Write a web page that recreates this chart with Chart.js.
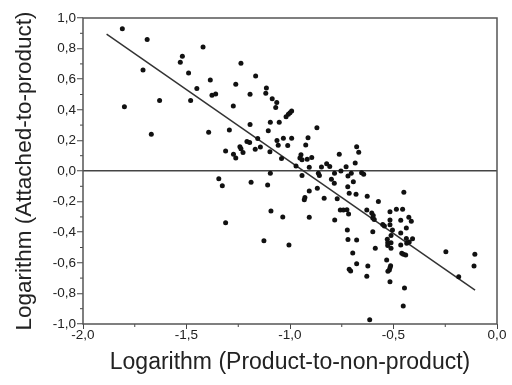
<!DOCTYPE html>
<html>
<head>
<meta charset="utf-8">
<title>Attached-to-product vs product-to-non-product</title>
<script src="https://cdn.jsdelivr.net/npm/chart.js@4.4.0/dist/chart.umd.min.js"></script>
<style>
  html, body { margin: 0; padding: 0; background: #fff; }
  #wrap { width: 512px; height: 385px; }
</style>
</head>
<body>
<div id="wrap"><canvas id="plot" width="512" height="385"></canvas></div>
<script>
// log(product / non-product), one value per item
var logProduct = [
  -1.81, -1.80, -1.69, -1.71, -1.67, -1.63, -1.53, -1.52, -1.49, -1.42, -1.45, -1.48,
  -1.385, -1.377, -1.359, -1.393, -1.237, -1.262, -1.274, -1.193, -1.166, -1.114, -1.117, -1.086,
  -1.064, -1.069, -1.193, -1.293, -1.311, -1.273, -1.262, -1.242, -1.237, -1.227, -1.208, -1.195,
  -1.168, -1.156, -1.143, -1.105, -1.095, -1.052, -1.097, -1.063, -1.057, -1.095, -1.344,
  -0.992, -1.000, -1.008, -1.019, -0.870, -1.032, -0.992, -1.011, -0.913, -0.924, -1.041, -0.947,
  -0.952, -0.942, -0.917, -0.895, -0.907, -0.848, -0.823, -0.808, -0.762, -0.729, -0.678, -0.668,
  -0.685, -0.863, -0.858, -0.785, -0.754, -0.704, -0.654, -0.644, -0.971, -0.942,
  -0.800, -0.786, -0.720, -0.694, -0.868, -0.907, -0.721, -0.681, -0.928, -0.931, -0.835, -0.772,
  -0.714, -0.627, -0.573, -0.450, -0.757, -0.742, -0.725, -0.717, -0.629, -0.605, -0.598, -0.600,
  -0.593, -0.517, -0.486, -0.456, -0.517, -0.465, -0.426, -0.414, -0.907, -0.784,
  -0.552, -0.544, -0.517, -0.505, -0.512, -0.723, -0.600, -0.465, -0.438, -0.530, -0.512, -0.528,
  -0.528, -0.512, -0.720, -0.678, -0.438, -0.408, -0.424, -0.436, -0.465, -0.588, -0.460, -0.452,
  -0.441, -0.247, -0.107, -0.533, -0.514, -0.517, -0.520, -0.527, -0.624, -0.111, -0.629, -0.517,
  -0.185, -0.447, -0.453, -0.615,
  -1.108, -1.092, -1.035, -1.126, -1.005, -0.697, -0.678, -0.714, -0.707, -1.327, -1.311, -1.188
];
// log(attached / product), same order
var logAttached = [
  0.93, 0.42, 0.86, 0.66, 0.24, 0.46, 0.71, 0.75, 0.64, 0.81, 0.54, 0.46,
  0.595, 0.495, 0.503, 0.253, 0.704, 0.567, 0.425, 0.501, 0.621, 0.542, 0.508, 0.473,
  0.448, 0.415, 0.304, 0.268, 0.131, 0.109, 0.085, 0.159, 0.146, 0.121, 0.192, 0.186,
  0.142, 0.212, 0.157, 0.263, 0.318, 0.318, 0.126, 0.199, 0.168, -0.015, -0.050,
  0.392, 0.381, 0.371, 0.355, 0.283, 0.214, 0.214, 0.167, 0.218, 0.170, 0.082, 0.107,
  0.085, 0.074, 0.077, 0.088, 0.025, 0.026, 0.048, 0.029, 0.109, 0.028, 0.159, 0.122,
  0.052, -0.015, -0.029, -0.015, 0.000, -0.015, -0.012, -0.022, 0.033, -0.029,
  -0.054, -0.080, -0.033, -0.070, -0.113, -0.131, -0.103, -0.152, -0.173, -0.188, -0.178, -0.182,
  -0.146, -0.165, -0.199, -0.139, -0.255, -0.255, -0.253, -0.281, -0.255, -0.275, -0.291, -0.307,
  -0.317, -0.266, -0.250, -0.250, -0.320, -0.322, -0.303, -0.328, -0.303, -0.320,
  -0.350, -0.359, -0.351, -0.386, -0.422, -0.386, -0.397, -0.405, -0.373, -0.446, -0.469, -0.469,
  -0.487, -0.505, -0.448, -0.451, -0.441, -0.443, -0.464, -0.473, -0.484, -0.505, -0.538, -0.544,
  -0.549, -0.527, -0.544, -0.582, -0.619, -0.632, -0.647, -0.656, -0.621, -0.621, -0.688, -0.724,
  -0.691, -0.765, -0.882, -0.972,
  -0.092, -0.261, -0.301, -0.456, -0.484, -0.536, -0.606, -0.642, -0.654, -0.096, -0.338, -0.074
];
// fitted line, start and end
var fitX = [-1.886, -0.106];
var fitY = [0.895, -0.778];

var points = [];
for (var i = 0; i < Math.min(logProduct.length, logAttached.length); i++) {
  points.push({ x: logProduct[i], y: logAttached[i] });
}
var fitLine = fitX.map(function (x, k) { return { x: x, y: fitY[k] }; });

function comma(v) {
  if (Math.abs(v) < 1e-9) v = 0;
  return v.toFixed(1).replace('.', ',');
}

// box around the plot and the short minor ticks
var frame = {
  id: 'frame',
  afterDraw: function (chart) {
    var ctx = chart.ctx, a = chart.chartArea;
    var xs = chart.scales.x, ys = chart.scales.y;
    ctx.save();
    ctx.strokeStyle = '#444';
    ctx.lineWidth = 1;
    ctx.beginPath();
    for (var v = -0.9; v < 1; v += 0.2) {
      var p = ys.getPixelForValue(v);
      ctx.moveTo(a.left - 3, p); ctx.lineTo(a.left, p);
    }
    for (var u = -1.75; u < 0; u += 0.5) {
      var q = xs.getPixelForValue(u);
      ctx.moveTo(q, a.bottom); ctx.lineTo(q, a.bottom + 3);
    }
    ctx.stroke();
    ctx.strokeStyle = '#555';
    ctx.lineWidth = 1.5;
    ctx.strokeRect(a.left, a.top, a.right - a.left, a.bottom - a.top);
    ctx.restore();
  }
};

Chart.defaults.font.family = '"Liberation Sans", Arial, sans-serif';
Chart.defaults.color = '#222';

new Chart(document.getElementById('plot'), {
  type: 'scatter',
  data: {
    datasets: [
      {
        data: points,
        pointRadius: 2.5,
        pointBackgroundColor: '#111',
        pointBorderWidth: 0
      },
      {
        type: 'line',
        data: fitLine,
        borderColor: '#333',
        borderWidth: 1.5,
        pointRadius: 0,
        fill: false
      }
    ]
  },
  plugins: [frame],
  options: {
    responsive: false,
    animation: false,
    layout: { padding: { top: 18, right: 15, left: 0, bottom: 0 } },
    plugins: { legend: { display: false }, tooltip: { enabled: false } },
    scales: {
      x: {
        type: 'linear',
        min: -2, max: 0,
        border: { display: false },
        grid: { drawOnChartArea: false, drawTicks: true, tickLength: 5, tickColor: '#444', tickWidth: 1 },
        ticks: { stepSize: 0.5, autoSkip: false, padding: 0, maxRotation: 0,
                 font: { size: 13.5, lineHeight: 1 }, callback: comma },
        title: { display: true, text: 'Logarithm (Product-to-non-product)',
                 font: { size: 23 }, padding: { top: 0, bottom: 9 } },
        afterFit: function (s) { s.height = 61; }
      },
      y: {
        type: 'linear',
        min: -1, max: 1,
        border: { display: false },
        grid: {
          drawOnChartArea: true, drawTicks: true, tickLength: 6, tickColor: '#444', tickWidth: 1,
          lineWidth: 1.5,
          color: function (c) { return c.tick && Math.abs(c.tick.value) < 1e-9 ? '#444' : 'rgba(0,0,0,0)'; }
        },
        ticks: { stepSize: 0.2, autoSkip: false, padding: 1,
                 font: { size: 13.5 }, callback: comma },
        title: { display: true, text: 'Logarithm (Attached-to-product)',
                 font: { size: 22.5 }, padding: { top: 11, bottom: 0 } },
        afterFit: function (s) { s.width = 83; }
      }
    }
  }
});
</script>
</body>
</html>
